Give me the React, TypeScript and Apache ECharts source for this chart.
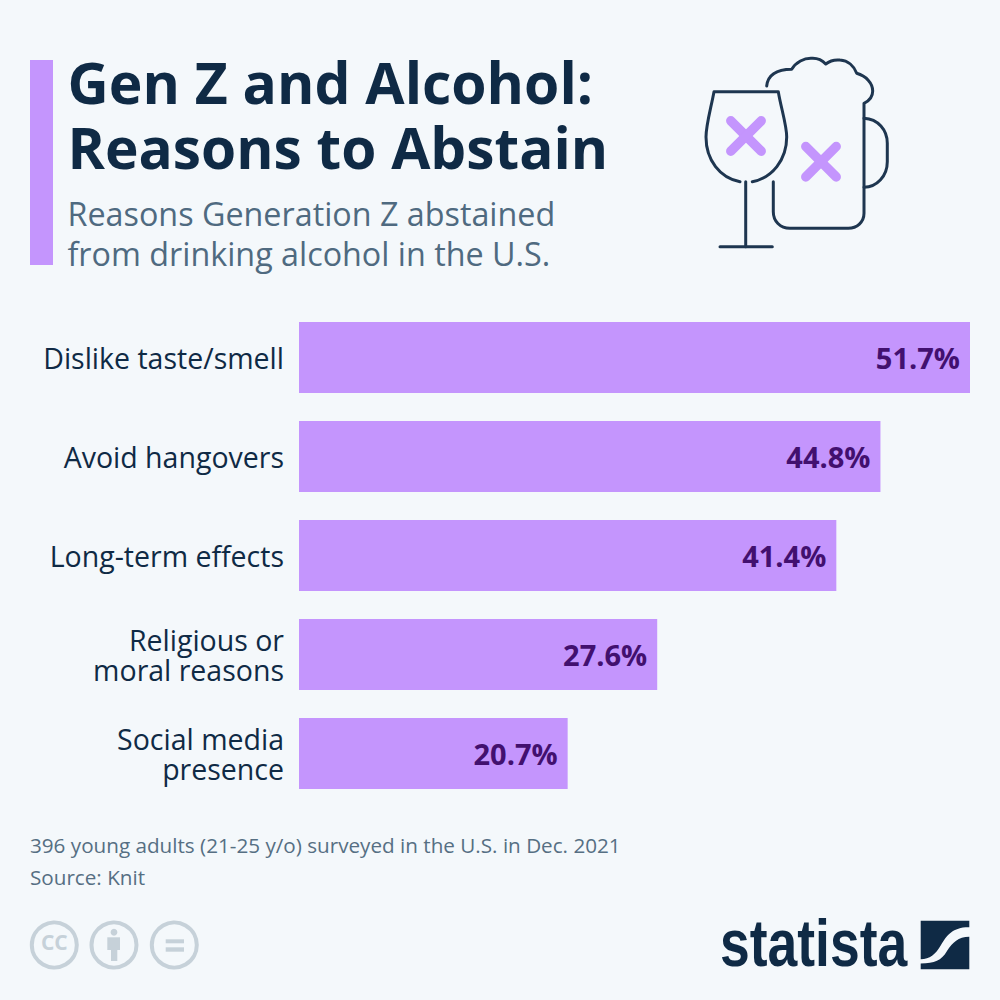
import React, { useEffect, useRef } from "react";
import * as echarts from "echarts";

const categories = ["Dislike taste/smell", "Avoid hangovers", "Long-term effects", "Religious or\nmoral reasons", "Social media\npresence"];
const values = [51.7, 44.8, 41.4, 27.6, 20.7];
const titleLines = ["Gen Z and Alcohol:", "Reasons to Abstain"];
const subtitleLines = ["Reasons Generation Z abstained", "from drinking alcohol in the U.S."];
const noteLines = ["396 young adults (21-25 y/o) surveyed in the U.S. in Dec. 2021", "Source: Knit"];

const PURPLE = "#c495fd";
const NAVY = "#0f2a45";
const ICON = "#1e3650";
const GREY = "#c6d1d9";
const FONT = "'Open Sans', sans-serif";

const glassPath = "M740 181.7 C720 178 706 160 706 137 C706 125 711 108 714 91.7 L778.3 91.7 C781 108 786.7 125 786.7 137 C786.7 160 772 178 752.3 181.7";
const mugPath = "M766.7 86 C768 74 778 69.5 791.7 69.3 C796 62 804 58 811.7 58.3 C817 58 822 60 825.7 64 C830 60.5 835 59.5 840 60 C848 60.5 854 66 856.7 73.3 C866 76 872.7 83 872.7 91 C872.7 97 869 101 864 103.3 L864 213.3 C864 222 857 228.3 848.3 228.3 L790 228.3 C780 228.3 773.3 221 773.3 211.7 L773.3 181.7";
const handlePath = "M864 118.3 C878 119 887.3 130 887.3 143.3 L887.3 161.7 C887.3 176 877 187 864 187.3";
const logoTopPath = "M920.7 920.7 L969.3 920.7 L969.3 927.3 C953 927 947 935 941 945 C935 955 930 959 920.7 959.3 Z";
const logoBottomPath = "M969.3 936.7 L969.3 969.3 L920.7 969.3 L920.7 963.5 C935 963 941 961 947 951 C953 942 958 937 969.3 936.7 Z";

echarts.graphic.registerShape("glassShape", echarts.graphic.extendPath(glassPath, {}));
echarts.graphic.registerShape("mugShape", echarts.graphic.extendPath(mugPath, {}));
echarts.graphic.registerShape("handleShape", echarts.graphic.extendPath(handlePath, {}));
echarts.graphic.registerShape("logoTopShape", echarts.graphic.extendPath(logoTopPath, {}));
echarts.graphic.registerShape("logoBottomShape", echarts.graphic.extendPath(logoBottomPath, {}));

const text = (x: number, y: number, t: string, size: number, fill: string, weight = "normal", family = FONT, align = "left", scaleX = 1) => ({
  type: "text", x, y, scaleX,
  style: { text: t, fontSize: size, fill, fontWeight: weight, fontFamily: family, align, verticalAlign: "top" },
});
const stroke = (color: string, w: number) => ({ stroke: color, lineWidth: w, fill: "none", lineCap: "round", lineJoin: "round" });
const line = (x1: number, y1: number, x2: number, y2: number, color: string, w: number) => ({
  type: "line", shape: { x1, y1, x2, y2 }, style: { stroke: color, lineWidth: w, lineCap: "round" },
});
const rect = (x: number, y: number, width: number, height: number, fill: string) => ({ type: "rect", shape: { x, y, width, height }, style: { fill } });
const ring = (cx: number) => ({ type: "circle", shape: { cx, cy: 945, r: 22.5 }, style: { fill: "none", stroke: GREY, lineWidth: 4 } });

export default function App() {
  const ref = useRef<HTMLDivElement>(null);
  useEffect(() => {
    const chart = echarts.init(ref.current!, undefined, { renderer: "svg" });
    chart.setOption({
      animation: false,
      backgroundColor: "#f4f8fb",
      grid: { left: 299, top: 308, width: 671, height: 495, containLabel: false },
      xAxis: { type: "value", min: 0, max: 51.7, show: false },
      yAxis: {
        type: "category", inverse: true, data: categories,
        axisLine: { show: false }, axisTick: { show: false },
        axisLabel: { color: NAVY, fontSize: 28.5, fontFamily: FONT, align: "right", margin: 15, lineHeight: 30, padding: [0, 0, 4, 0] },
      },
      series: [{
        type: "bar", data: values, barWidth: 71,
        itemStyle: { color: PURPLE },
        label: {
          show: true, position: "insideRight", distance: 10, color: "#42106f", fontSize: 29, fontWeight: "bold", fontFamily: FONT,
          formatter: (p: any) => `${p.value.toFixed(1)}%`,
        },
      }],
      graphic: [
        rect(30, 60, 23, 205, PURPLE),
        text(67.5, 53, titleLines[0], 57, NAVY, "bold"),
        text(67.5, 118, titleLines[1], 56.8, NAVY, "bold"),
        text(67.5, 196.5, subtitleLines[0], 32.3, "#4f6a80"),
        text(67.5, 236.5, subtitleLines[1], 32.3, "#4f6a80"),
        text(30, 834, noteLines[0], 20.67, "#566f83"),
        text(30, 866, noteLines[1], 20.67, "#566f83"),
        { type: "glassShape", x: 0, y: 0, style: stroke(ICON, 3) },
        { type: "mugShape", x: 0, y: 0, style: stroke(ICON, 3) },
        { type: "handleShape", x: 0, y: 0, style: stroke(ICON, 3) },
        line(745.7, 181.7, 745.7, 246.7, ICON, 3),
        line(720, 246.7, 772.3, 246.7, ICON, 3),
        line(730.8, 120.8, 761.2, 151.2, PURPLE, 9.5),
        line(761.2, 120.8, 730.8, 151.2, PURPLE, 9.5),
        line(805.8, 146.5, 836.2, 176.9, PURPLE, 9.5),
        line(836.2, 146.5, 805.8, 176.9, PURPLE, 9.5),
        ring(54.3), ring(114), ring(174.3),
        text(54.3, 931, "CC", 21, GREY, "bold", FONT, "center"),
        { type: "circle", shape: { cx: 114, cy: 932.3, r: 3.4 }, style: { fill: GREY } },
        rect(107.3, 937.3, 12.7, 12.7, GREY),
        rect(111, 950, 6.3, 11, GREY),
        rect(165.7, 939.3, 18.3, 4, GREY),
        rect(165.7, 947.3, 18.3, 4.4, GREY),
        text(720, 910, "statista", 66, NAVY, "bold", "'Liberation Sans Narrow', 'Liberation Sans', sans-serif", "left", 0.81),
        { type: "logoTopShape", x: 0, y: 0, style: { fill: NAVY } },
        { type: "logoBottomShape", x: 0, y: 0, style: { fill: NAVY } },
      ],
    });
    return () => chart.dispose();
  }, []);
  return <div ref={ref} style={{ position: "absolute", left: 0, top: 0, width: 1000, height: 1000 }} />;
}
